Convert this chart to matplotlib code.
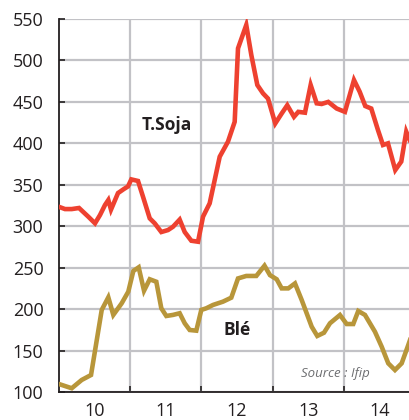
import matplotlib.pyplot as plt
from matplotlib.ticker import FixedLocator, NullFormatter, FixedFormatter

# months since Jan 2010 and prices
soja_m = [0.0, 1.06, 2.19, 3.42, 4.98, 6.11, 6.95, 7.79, 8.35, 8.80, 9.98, 10.99, 11.66,
          12.22, 13.35, 14.19, 15.32, 16.16, 17.27, 18.40, 19.24, 20.36, 21.21, 22.32, 23.45,
          24.29, 25.41, 27.10, 28.49, 29.62, 30.18, 31.57, 32.42, 33.43, 34.39, 35.23,
          36.45, 37.53, 38.47, 39.60, 40.33, 41.45, 42.41, 43.42, 44.26, 45.37, 46.79,
          48.18, 49.70, 50.66, 51.60, 52.61, 53.74, 54.58, 55.42, 56.65, 57.66, 58.50, 59.07]
soja_v = [323.5, 320.7, 320.7, 322, 311.5, 303.5, 313.5, 325.6, 331.6, 320, 340, 345, 348,
          356.5, 354.6, 335.6, 309.5, 303.5, 293, 295.4, 299.4, 308, 293, 282.5, 281.3,
          311.5, 327.6, 383.9, 402, 426, 514.6, 542.8, 506.6, 470.4, 460.3, 454,
          424, 436, 446, 432, 438, 437, 470.4, 448.3, 447.5, 450, 442,
          438, 476.4, 462.3, 445, 442, 416, 398, 400, 367.8, 378, 414, 404]

ble_m = [0.0, 2.19, 3.87, 5.44, 7.24, 8.35, 9.19, 10.60, 11.71, 12.56, 13.46, 14.36, 15.32,
         16.43, 17.27, 18.11, 19.24, 20.36, 21.21, 22.05, 23.16, 24.00, 24.84, 25.97, 27.65,
         29.05, 30.18, 31.57, 33.26, 34.64, 35.56, 36.69, 37.53, 38.64, 39.77, 40.90,
         42.58, 43.52, 44.65, 45.66, 47.34, 48.47, 49.58, 50.42, 51.55, 53.23, 54.36,
         55.47, 56.60, 57.73, 58.84, 59.13]
ble_v = [109.7, 104.5, 114.5, 120.5, 199, 214.2, 193, 207, 221, 246, 250.4, 222.2, 236,
         233, 201, 191.7, 193, 195, 182.9, 174.8, 174, 199, 201, 205, 209,
         213.8, 237, 240, 240, 252.4, 241, 236, 225, 225, 231, 211,
         178.8, 167.6, 171.5, 182.9, 192.9, 182, 182, 197.7, 193, 172.7, 154.7,
         134.6, 126.5, 134.6, 156.7, 162.7]

year_bounds = [12, 24, 36, 48]
year_mids = [6, 18, 30, 42, 54]
year_labels = ["10", "11", "12", "13", "14"]
y_ticks = [100, 150, 200, 250, 300, 350, 400, 450, 500, 550]

plt.rcParams['font.family'] = ['Open Sans', 'DejaVu Sans']

fig = plt.figure(figsize=(4.1, 4.2), dpi=100)
ax = fig.add_axes([0.1432, 0.0667, 0.8568, 0.888])

ax.plot(soja_m, soja_v, color="#EE4130", lw=3.3, solid_joinstyle="miter", zorder=3)
ax.plot(ble_m, ble_v, color="#B8963A", lw=3.3, solid_joinstyle="miter", zorder=3)

ax.set_xlim(0, 59.13)
ax.set_ylim(100, 550)

ax.yaxis.set_major_locator(FixedLocator(y_ticks))
ax.xaxis.set_major_locator(FixedLocator(year_bounds))
ax.xaxis.set_major_formatter(NullFormatter())
ax.xaxis.set_minor_locator(FixedLocator(year_mids))
ax.xaxis.set_minor_formatter(FixedFormatter(year_labels))

ax.grid(True, which="major", color="#C2C2C6", lw=1.6, zorder=1)
ax.tick_params(axis="y", direction="in", length=4, width=1.2, color="#231F20",
               labelsize=13, labelcolor="#231F20", pad=11)
ax.tick_params(axis="x", which="major", direction="in", length=4, width=1.2, color="#231F20")
ax.tick_params(axis="x", which="minor", length=0, labelsize=13, labelcolor="#231F20", pad=7)

for s in ["top", "right"]:
    ax.spines[s].set_visible(False)
for s in ["left", "bottom"]:
    ax.spines[s].set_color("#231F20")
    ax.spines[s].set_linewidth(1.3)

ax.text(18.2, 422, "T.Soja", fontsize=12.5, fontweight="bold", color="#231F20",
        ha="center", va="center", zorder=4)
ax.text(30.0, 175, "Blé", fontsize=12.5, fontweight="bold", color="#231F20",
        ha="center", va="center", zorder=4)
ax.text(52.4, 122, "Source : Ifip", fontsize=9.5, style="italic", color="#6D6E71",
        ha="right", va="center", zorder=4)

fig.savefig("out.png", dpi=100)
